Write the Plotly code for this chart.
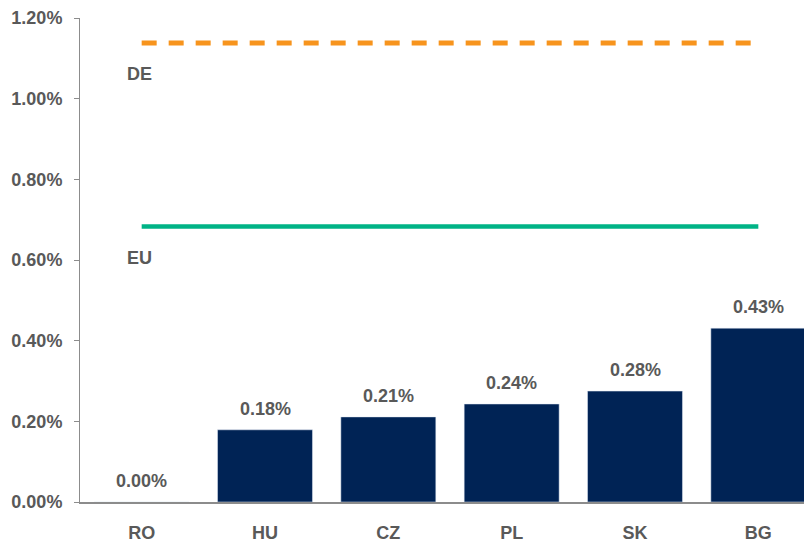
import plotly.graph_objects as go

categories = ["RO", "HU", "CZ", "PL", "SK", "BG"]
values = [0.0000, 0.00179, 0.00211, 0.00243, 0.00275, 0.00431]
value_labels = ["0.00%", "0.18%", "0.21%", "0.24%", "0.28%", "0.43%"]
de_value = 0.01138
eu_value = 0.00683
tick_vals = [0, 0.002, 0.004, 0.006, 0.008, 0.010, 0.012]
tick_text = ["0.00%", "0.20%", "0.40%", "0.60%", "0.80%", "1.00%", "1.20%"]

FONT = "Liberation Sans, Arial, sans-serif"
GREY = "#595959"
FS = 18

fig = go.Figure()
fig.add_trace(go.Bar(
    x=categories, y=values, marker_color="#002355", width=0.77,
))
fig.add_trace(go.Scatter(
    x=categories, y=[de_value] * len(categories), mode="lines",
    line=dict(color="#F7941D", width=5, dash="15px,12px"),
))
fig.add_trace(go.Scatter(
    x=categories, y=[eu_value] * len(categories), mode="lines",
    line=dict(color="#00B386", width=4.5),
))

for c, v, t in zip(categories, values, value_labels):
    fig.add_annotation(x=c, y=v, xref="x", yref="y", text=f"<b>{t}</b>", showarrow=False,
                       yanchor="bottom", yshift=9, font=dict(family=FONT, size=FS, color=GREY))

fig.add_annotation(x=categories[0], y=de_value, xref="x", yref="y", text="<b>DE</b>", showarrow=False,
                   yshift=-31, xshift=-2, font=dict(family=FONT, size=FS, color=GREY))
fig.add_annotation(x=categories[0], y=eu_value, xref="x", yref="y", text="<b>EU</b>", showarrow=False,
                   yshift=-31, xshift=-2, font=dict(family=FONT, size=FS, color=GREY))

fig.update_layout(
    width=812, height=544,
    margin=dict(l=72, r=0, t=10, b=50),
    plot_bgcolor="white", paper_bgcolor="white",
    showlegend=False, bargap=0.23,
    font=dict(family=FONT, size=FS, color=GREY),
)
fig.update_xaxes(showline=True, linecolor="#8C8C8C", linewidth=2, ticks="",
                 ticklabelstandoff=13,
                 tickfont=dict(family=FONT, size=FS, color=GREY),
                 tickvals=categories, ticktext=[f"<b>{c}</b>" for c in categories])
fig.update_yaxes(range=[0, 0.012], tickvals=tick_vals,
                 ticktext=[f"<b>{t}</b>" for t in tick_text],
                 showgrid=False, zeroline=False, showline=True, linecolor="#8C8C8C",
                 linewidth=1, ticks="outside", ticklen=5, tickcolor="#8C8C8C",
                 ticklabelstandoff=8, automargin=False, ticklabeloverflow="allow",
                 tickfont=dict(family=FONT, size=FS, color=GREY))

fig.write_html("out.html")
